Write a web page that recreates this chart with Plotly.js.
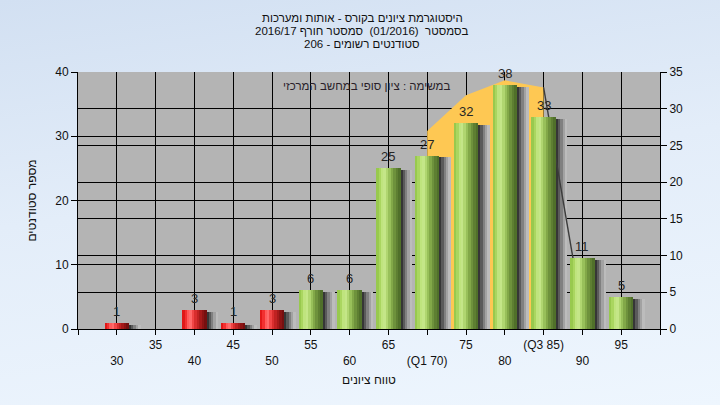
<!DOCTYPE html>
<html>
<head>
<meta charset="utf-8">
<script src="https://cdn.plot.ly/plotly-3.0.1.min.js"></script>
<style>
html,body{margin:0;padding:0;}
body{width:720px;height:405px;background:linear-gradient(172deg,#d2e0f2 0%,#e3edf9 45%,#eef6fe 100%);}
#chart{width:720px;height:405px;}
</style>
</head>
<body>
<div id="chart"></div>
<script>
// ---- data ----
const categories = [30,35,40,45,50,55,60,65,70,75,80,85,90,95];
const counts     = [1,0,3,1,3,6,6,25,27,32,38,33,11,5];
const tickLabels = ['30','35','40','45','50','55','60','65','(Q1 70)','75','80','(Q3 85)','90','95'];
const passMark = 55;
// interquartile (Q1..Q3) highlighted curve
const curveX = [70,75,80,85];
const curveY = [30.8,36.4,38.7,37.6];
const tailX = [85,90];
const tailY = [37.6,2.5];
const titleLines = ['היסטוגרמת ציונים בקורס - אותות ומערכות','בסמסטר  (01/2016)  סמסטר חורף 2016/17','סטודנטים רשומים - 206'];
const noteText = 'במשימה : ציון סופי במחשב המרכזי';
const xTitle = 'טווח ציונים';
const yTitle = 'מספר סטודנטים';

// ---- styles ----
const FONT = '"Liberation Sans", Arial, sans-serif';
const redShades   = ['#e01818','#f23030','#ff5a5a','#ff6a6a','#f04646','#d82e2e','#bf2222','#a51a1a','#8c1414','#761010'];
const greenShades = ['#98c94e','#aad660','#bfe47e','#c4e688','#b0d670','#98c05a','#82a848','#6e923c','#5e7f32','#50702a'];
const shadowShades = ['#363636','#5a5a5a','#808080','#a2a2a2','#bcbcbc'];
const W = 3.1, N = redShades.length, S = 0.3;

const traces = [];
// orange IQR area on main axes
traces.push({x:curveX, y:curveY, type:'scatter', mode:'lines', fill:'tozeroy',
  fillcolor:'#fec853', line:{width:0, color:'#fec853'}, hoverinfo:'skip', xaxis:'x', yaxis:'y'});
// right axis dummy
traces.push({x:[categories[0]], y:[0], type:'scatter', mode:'markers', marker:{opacity:0},
  hoverinfo:'skip', xaxis:'x', yaxis:'y2'});
// shadows (y3)
shadowShades.forEach((c,j)=>{
  traces.push({x:categories.map(v=>v + W/2 + (j+0.5)*S), y:counts.map(v=>v>0? Math.max(v-0.3,0):0), type:'bar',
    width:S+0.03, marker:{color:c, line:{width:0}},
    hoverinfo:'skip', xaxis:'x', yaxis:'y3'});
});
// tail line above shadows
traces.push({x:tailX, y:tailY, type:'scatter', mode:'lines', line:{color:'#3c3c3c', width:1.4},
  hoverinfo:'skip', xaxis:'x', yaxis:'y3'});
// gradient bars (y4)
for (let i=0;i<N;i++){
  traces.push({x:categories.map(v=>v - W/2 + (i+0.5)*W/N), y:counts, type:'bar', width:W/N+0.03,
    marker:{color:categories.map(c=> c<passMark ? redShades[i] : greenShades[i]), line:{width:0}},
    hoverinfo:'skip', xaxis:'x', yaxis:'y4'});
}

// value labels as annotations anchored to the bar tops
const valueAnns = categories.map((c,k)=>({x:c, y:counts[k], text:String(counts[k]), xref:'x', yref:'y4',
  showarrow:false, yanchor:'bottom', yshift:2, font:{family:FONT, size:13, color:'#262626'}}))
  .filter((a,k)=>counts[k]>0);

const allTicks = [25].concat(categories, [100]);
const allText = [''].concat(tickLabels.map((t,k)=> k%2===0 ? '<br>'+t : t), ['']);

const axisBase = {showline:true, linecolor:'#000', linewidth:1, ticks:'outside', tickcolor:'#000',
  showgrid:true, gridcolor:'#000', gridwidth:1, zeroline:false, tickfont:{family:FONT, size:12, color:'#111'}};

const titleAnns = titleLines.map((t,k)=>({text:t, xref:'paper', yref:'paper', x:0.488, y:1 + (54 - 13*k)/257,
  xanchor:'center', yanchor:'middle', showarrow:false, font:{family:FONT, size:11.5, color:'#111'}}));

const layout = {
  width:720, height:405,
  margin:{l:78, r:60, t:72, b:76},
  paper_bgcolor:'rgba(0,0,0,0)', plot_bgcolor:'#b4b4b4',
  barmode:'overlay', bargap:0, showlegend:false,
  font:{family:FONT, size:12, color:'#111'},
  xaxis:Object.assign({}, axisBase, {range:[25,100], tickmode:'array', tickvals:allTicks, ticktext:allText,
    ticklen:5, title:{text:xTitle, font:{family:FONT, size:12, color:'#111'}, standoff:8}}),
  yaxis:Object.assign({}, axisBase, {range:[0,40], dtick:10, ticklen:6,
    title:{text:yTitle, font:{family:FONT, size:12, color:'#111'}, standoff:16}}),
  yaxis2:Object.assign({}, axisBase, {range:[0,35], dtick:5, ticklen:6, overlaying:'y', side:'right'}),
  yaxis3:{range:[0,40], overlaying:'y', visible:false},
  yaxis4:{range:[0,40], overlaying:'y', visible:false},
  annotations:titleAnns.concat(valueAnns, [{text:noteText, xref:'x', yref:'y', x:62.2, y:37.8, showarrow:false,
    font:{family:FONT, size:11.5, color:'#2a1f2a'}}])
};

Plotly.newPlot('chart', traces, layout, {staticPlot:true, displayModeBar:false});
</script>
</body>
</html>
